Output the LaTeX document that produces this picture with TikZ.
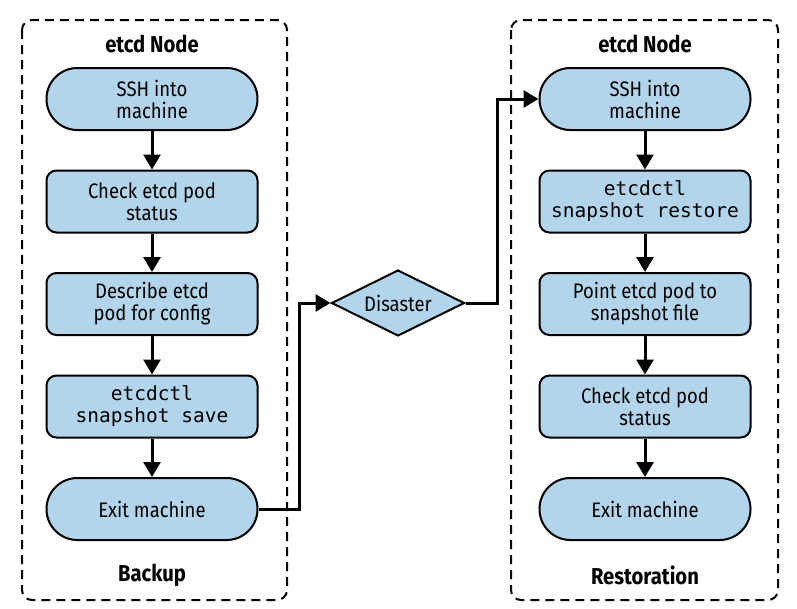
\documentclass[tikz,border=0pt]{standalone}
\usepackage{fontspec}
\setmainfont{Fira Sans}[FakeStretch=0.88]
\setmonofont{DejaVu Sans Mono}
\usetikzlibrary{positioning,shapes.geometric,arrows.meta}
\definecolor{boxblue}{RGB}{179,213,235}

\begin{document}
\begin{tikzpicture}[x=1pt,y=-1pt,
font=\fontsize{21}{22}\selectfont,
node distance=38.5pt,
stepbox/.style={draw,line width=2pt,fill=boxblue,rounded corners=10pt,minimum width=211pt,minimum height=62pt,align=center,inner sep=2pt},
endbox/.style={stepbox,rounded corners=30.9pt},
cmd/.style={font=\fontsize{19.5}{22}\ttfamily},
arr/.style={line width=3pt,-{Triangle[length=15pt,width=17pt]}},
frame/.style={draw,line width=2pt,dash pattern=on 9pt off 6pt,rounded corners=10pt},
title/.style={font=\fontsize{23}{24}\selectfont\bfseries}]
\useasboundingbox (0,0) rectangle (797,608);

% backup side
\draw[frame] (22,20) rectangle (287,600);
\node[title] (backT) at (152,44) {etcd Node};
\node[endbox] (sshL) at (152,99) {SSH into\\machine};
\node[stepbox,below=of sshL] (checkL) {Check etcd pod\\status};
\node[stepbox,below=of checkL] (descL) {Describe etcd\\pod for config};
\node[stepbox,cmd,below=of descL] (saveL) {etcdctl\\snapshot save};
\node[endbox,below=of saveL] (exitL) {Exit machine};
\node[title] (backB) at (152,575) {Backup};

% restore side
\draw[frame] (511,20) rectangle (778,600);
\node[title] (restT) at (645,44) {etcd Node};
\node[endbox] (sshR) at (645,99) {SSH into\\machine};
\node[stepbox,cmd,below=of sshR] (restR) {etcdctl\\snapshot restore};
\node[stepbox,below=of restR] (pointR) {Point etcd pod to\\snapshot file};
\node[stepbox,below=of pointR] (checkR) {Check etcd pod\\status};
\node[endbox,below=of checkR] (exitR) {Exit machine};
\node[title] (restB) at (645,575) {Restoration};

\node[draw,diamond,aspect=2,line width=2pt,fill=boxblue,minimum width=133pt,minimum height=66pt,inner sep=0pt] (dis) at (398,303) {Disaster};

\draw[arr] (sshL) -- (checkL);
\draw[arr] (checkL) -- (descL);
\draw[arr] (descL) -- (saveL);
\draw[arr] (saveL) -- (exitL);
\draw[arr] (sshR) -- (restR);
\draw[arr] (restR) -- (pointR);
\draw[arr] (pointR) -- (checkR);
\draw[arr] (checkR) -- (exitR);
\draw[arr] (exitL.east) -- ++(41,0) |- (dis.west);
\draw[arr] (dis.east) -- ++(32,0) |- (sshR.west);
\end{tikzpicture}
\end{document}
